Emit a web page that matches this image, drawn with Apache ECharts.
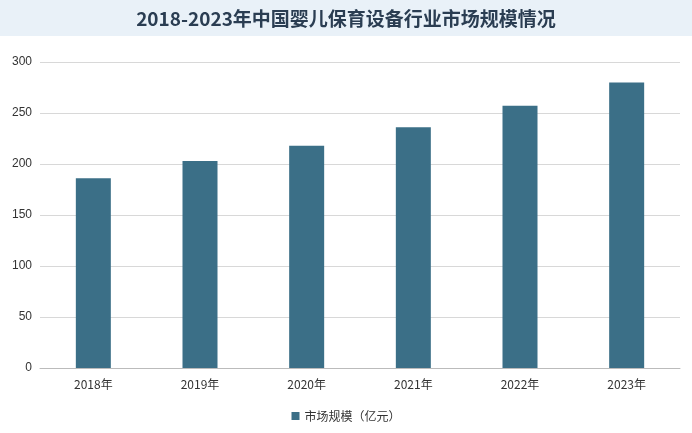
<!DOCTYPE html>
<html><head><meta charset="utf-8">
<script src="https://cdn.jsdelivr.net/npm/echarts@6/dist/echarts.min.js"></script>
<style>html,body{margin:0;padding:0;background:#fff}#c{width:692px;height:433px}</style>
</head><body><div id="c"></div>
<script>
const categories = ['2018年','2019年','2020年','2021年','2022年','2023年'];
const values = [186, 203, 218, 236, 257, 280];
const seriesName = '市场规模（亿元）';
const chart = echarts.init(document.getElementById('c'));
chart.setOption({
  backgroundColor: '#fff',
  graphic: [{type:'rect', left:0, top:0, shape:{width:692, height:36}, style:{fill:'#e9f1f8'}, z:-1}],
  title: {text:'2018-2023年中国婴儿保育设备行业市场规模情况', left:'center', top:4,
    textStyle:{fontFamily:'Noto Sans CJK SC', fontSize:19, fontWeight:'bold', color:'#2a3d52'}},
  legend: {bottom:6, left:'center', itemWidth:8, itemHeight:8, icon:'rect',
    textStyle:{fontFamily:'Noto Sans CJK SC', fontSize:12, color:'#333'}},
  grid: {left:40, right:12, top:62, bottom:65},
  xAxis: {type:'category', data:categories, axisTick:{show:false},
    axisLine:{lineStyle:{color:'#bbb'}},
    axisLabel:{fontFamily:'Noto Sans CJK SC', fontSize:12, color:'#333', margin:10}},
  yAxis: {type:'value', min:0, max:300, interval:50,
    axisLabel:{fontSize:12, color:'#333'},
    splitLine:{lineStyle:{color:'#d8d8d8'}}},
  series: [{name:seriesName, type:'bar', data:values, barWidth:35,
    itemStyle:{color:'#3b6f87'}}]
});
</script></body></html>
